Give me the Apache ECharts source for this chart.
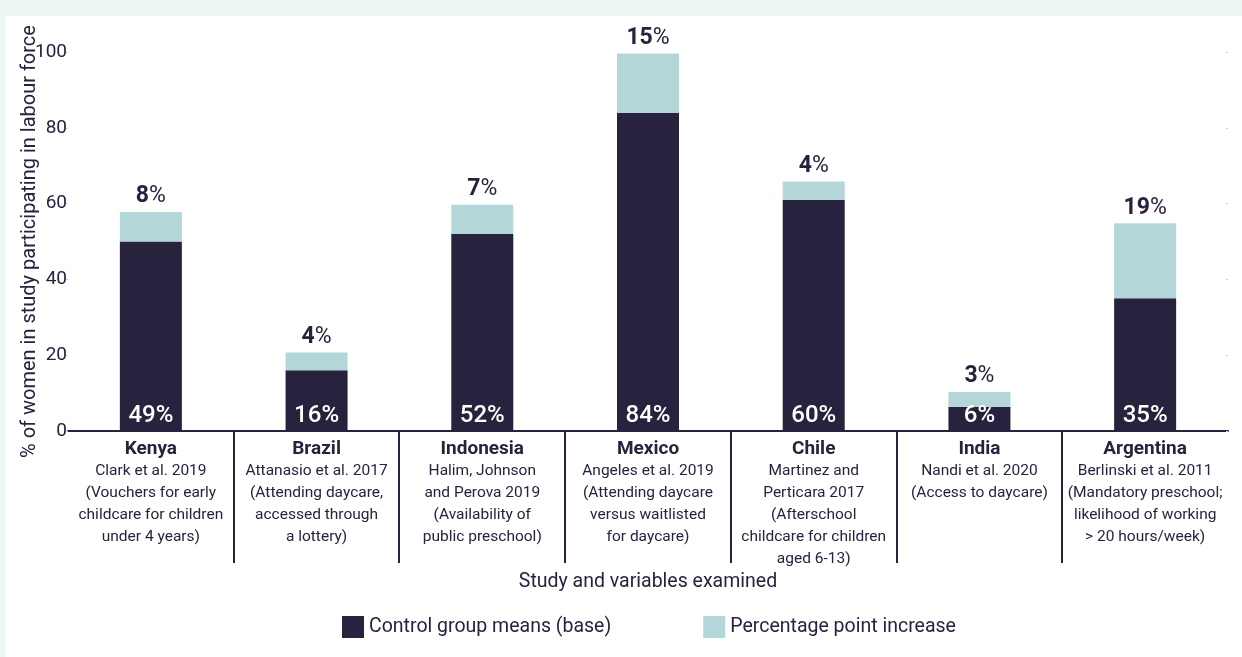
<!DOCTYPE html>
<html>
<head>
<meta charset="utf-8">
<script src="https://cdn.jsdelivr.net/npm/echarts@6/dist/echarts.min.js"></script>
<style>
  html, body { margin: 0; padding: 0; background: #edf6f5; }
  #panel { position: absolute; left: 5px; top: 16px; right: 0; bottom: 0; background: #fff; }
  #chart { position: absolute; left: 0; top: 0; width: 1242px; height: 657px; }
</style>
</head>
<body>
<div id="panel"></div>
<div id="chart"></div>
<script>
const countries = ['Kenya', 'Brazil', 'Indonesia', 'Mexico', 'Chile', 'India', 'Argentina']
const studies = [
  ['Clark et al. 2019', '(Vouchers for early', 'childcare for children', 'under 4 years)'],
  ['Attanasio et al. 2017', '(Attending daycare,', 'accessed through', 'a lottery)'],
  ['Halim, Johnson', 'and Perova 2019', '(Availability of', 'public preschool)'],
  ['Angeles et al. 2019', '(Attending daycare', 'versus waitlisted', 'for daycare)'],
  ['Martinez and', 'Perticara 2017', '(Afterschool', 'childcare for children', 'aged 6-13)'],
  ['Nandi et al. 2020', '(Access to daycare)'],
  ['Berlinski et al. 2011', '(Mandatory preschool;', 'likelihood of working', '> 20 hours/week)']
]
// bar heights
const baseValues = [50, 16, 52, 84, 61, 6.3, 35]
const increaseValues = [7.8, 4.7, 7.7, 15.6, 4.8, 4, 19.8]
// printed labels
const baseLabels = [49, 16, 52, 84, 60, 6, 35]
const increaseLabels = [8, 4, 7, 15, 4, 3, 19]
const yTicks = [0, 20, 40, 60, 80, 100]

const dark = '#27233f'
const light = '#b3d7d8'
const font = 'Roboto'

const chart = echarts.init(document.getElementById('chart'))
chart.setOption({
  backgroundColor: 'transparent',
  textStyle: { fontFamily: font, color: dark },
  animation: false,
  grid: { left: 68, right: 14, top: 52, bottom: 226 },
  legend: {
    data: ['Control group means (base)', 'Percentage point increase'],
    bottom: 14,
    left: 337,
    icon: 'rect',
    itemWidth: 22,
    itemHeight: 22,
    itemGap: 92,
    textStyle: { fontFamily: font, fontSize: 19.5, color: dark }
  },
  xAxis: {
    type: 'category',
    data: countries,
    name: 'Study and variables examined',
    nameLocation: 'middle',
    nameGap: 138,
    nameTextStyle: { fontSize: 19.5, color: dark, fontFamily: font },
    axisLine: { lineStyle: { color: dark, width: 2 } },
    axisTick: { show: false },
    axisLabel: {
      interval: 0,
      margin: 7,
      formatter: (v, i) => ['{t|' + v + '}'].concat(studies[i].map(s => '{s|' + s + '}')).join('\n'),
      rich: {
        t: { fontSize: 19, fontWeight: 'bold', color: dark, lineHeight: 22, fontFamily: font },
        s: { fontSize: 15.5, color: dark, lineHeight: 22, fontFamily: font }
      }
    }
  },
  yAxis: [{
    type: 'value',
    min: 0,
    max: 100,
    interval: 20,
    name: '% of women in study participating in labour force',
    nameLocation: 'middle',
    nameGap: 28,
    nameMoveOverlap: false,
    nameTextStyle: { fontSize: 20, color: dark, fontFamily: font },
    axisLine: { show: false },
    axisTick: { show: true, length: 2, lineStyle: { color: '#cfcfcf' } },
    splitLine: { show: false },
    axisLabel: { fontSize: 19, color: dark, margin: 1 }
  }, {
    type: 'value',
    min: 0,
    max: 100,
    interval: 20,
    position: 'right',
    axisLine: { show: false },
    axisTick: { show: true, inside: true, length: 2, lineStyle: { color: '#cfcfcf' } },
    axisLabel: { show: false },
    splitLine: { show: false }
  }],
  series: [{
    name: 'Control group means (base)',
    type: 'bar',
    stack: 'total',
    barWidth: 62,
    itemStyle: { color: dark },
    data: baseValues,
    label: {
      show: true,
      position: 'insideBottom',
      distance: 3,
      fontSize: 24,
      fontWeight: 500,
      color: '#fff',
      formatter: p => baseLabels[p.dataIndex] + '%'
    }
  }, {
    name: 'Percentage point increase',
    type: 'bar',
    stack: 'total',
    barWidth: 62,
    itemStyle: { color: light },
    data: increaseValues,
    label: {
      show: true,
      position: 'top',
      distance: 4,
      formatter: p => '{n|' + increaseLabels[p.dataIndex] + '}{p|%}',
      rich: {
        n: { fontSize: 23, fontWeight: 'bold', color: dark, fontFamily: font },
        p: { fontSize: 23, color: dark, fontFamily: font }
      }
    }
  }, {
    // category separators below the axis
    type: 'custom',
    silent: true,
    clip: false,
    z: 5,
    data: [1, 2, 3, 4, 5, 6].map(i => [i, 0]),
    encode: { x: 0, y: 1 },
    renderItem: (params, api) => {
      const c = api.coord([api.value(0), 0])
      const bw = api.size([1, 0])[0]
      const x = Math.round(c[0] - bw / 2)
      return {
        type: 'line',
        shape: { x1: x, y1: c[1], x2: x, y2: c[1] + 132 },
        style: { stroke: dark, lineWidth: 2 }
      }
    }
  }]
})
</script>
</body>
</html>
